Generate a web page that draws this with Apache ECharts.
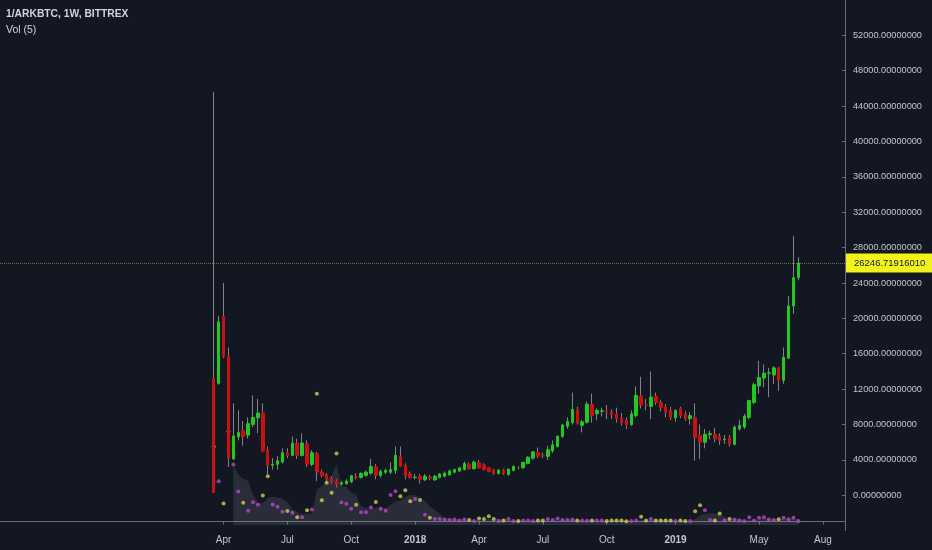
<!DOCTYPE html>
<html>
<head>
<meta charset="utf-8">
<script src="https://cdn.jsdelivr.net/npm/echarts@6/dist/echarts.min.js"></script>
<style>
html,body{margin:0;padding:0;background:#131722;}
#chart{width:932px;height:550px;}
</style>
</head>
<body>
<div id="chart"></div>
<script>
// ---------------- data (weekly 1/ARKBTC, Bittrex) ----------------
const firstCandle = '2017-03-20';
const emptyWeeksBefore = 43;
const emptyWeeksAfter = 9;

const open = [13200,12650,20200,15700,4100,6600,7300,6800,8000,8750,
  9300,5100,3400,3500,3750,4800,4500,5900,4500,5800,
  3500,4700,2600,2300,1900,1600,1250,1300,1500,2100,
  2000,2250,2500,3200,2250,2600,2600,2800,4400,3400,
  2450,2000,2150,1750,2050,1750,2000,2150,2300,2600,
  2750,2900,3500,3000,3700,3450,3100,2900,2450,2850,
  2350,2800,3150,3100,3600,4200,4800,4500,4400,5000,
  5500,6650,7800,8200,9700,7900,8250,10300,9200,9500,
  9450,9400,9200,8750,8450,7950,9000,11200,10200,10050,
  11200,10500,10000,9600,8750,9800,9200,8650,8800,6750,
  6000,6850,6900,6650,6300,6500,5750,7500,7700,8800,
  10500,12350,13250,13800,13600,14400,13000,15500,21400,24600];

const close = [300,19600,15700,4200,6700,7100,6600,8100,8800,9300,
  5000,3400,3500,3900,4800,4500,5900,4500,5900,3500,
  4800,2600,2250,1800,1500,1200,1400,1600,2200,2000,
  2450,2600,3250,2250,2700,2800,2900,4500,3300,2150,
  2000,2050,1750,2150,1900,2150,2400,2500,2750,2900,
  3100,3600,3000,3750,3100,2900,2700,2450,2850,2450,
  2950,3250,3100,3700,4300,4900,4400,4450,5150,5700,
  6650,7950,8350,9700,8150,8300,10300,9000,9600,9550,
  9350,9100,8650,8200,7950,9200,11300,10200,10150,11100,
  10500,9900,9400,8750,9600,9000,8600,9000,6500,6000,
  6900,6950,6400,6200,6350,5750,7700,7900,8950,10700,
  12500,13300,13800,13850,14400,13000,15600,21400,24600,26246.7191601];

const high = [45600,20300,24000,16700,10400,9600,8400,8800,11300,10900,
  10400,5500,4200,4400,5300,5300,6650,6400,7000,6200,
  5100,4900,2900,2500,2100,1800,1600,1800,2300,2500,
  2600,2800,4100,3500,2900,3000,3700,5500,5500,3600,
  2700,2400,2400,2400,2300,2300,2500,2700,2900,3000,
  3200,3800,3700,3900,4000,3600,3200,3000,2950,3000,
  3000,3400,3300,3800,4400,5000,5400,4800,5600,6200,
  6800,8100,8800,11600,10000,8500,10600,11500,9800,9900,
  10200,9700,9900,9300,8800,9600,12300,13400,10900,14000,
  11600,10800,10300,10000,9700,10000,9500,9400,10400,8000,
  7500,7300,7600,7000,6800,6800,7900,8500,9200,10800,
  12750,15200,14800,14400,14600,14500,16700,22500,29300,26900];

const low = [250,12500,15500,3200,4000,6200,5600,6400,7700,7000,
  4900,2400,2900,2900,3600,4200,4400,4100,4400,3200,
  3300,1600,2000,1600,1300,900,1100,1200,1400,1800,
  1900,2100,2300,1800,2000,2400,2400,2400,3200,1800,
  1900,1800,1300,1600,1700,1600,1900,2000,2200,2500,
  2600,2800,2900,2900,3000,2800,2600,2300,2350,2300,
  2200,2700,2900,3000,3500,4000,4200,4200,4000,4800,
  5400,6500,7500,8000,8000,7100,8100,8200,8500,8900,
  8600,8600,8200,7900,7500,7900,8800,9800,9600,8600,
  10200,9500,8800,8500,8300,8700,8400,8000,3900,4100,
  5300,6300,6000,5700,5800,5500,5700,7300,7500,8600,
  10300,11500,12200,11100,12600,11800,12600,15400,20500,24300];

const volume = [75,40.3,18,90,57,30,18.7,10.7,19.3,16.7,
  26,45.3,17,14.7,9.7,10.5,8.7,4.3,4.3,11.3,
  12,127.7,21.3,38.7,28.7,68,19,17.7,12.7,16.7,
  9.3,9.3,14,19.5,12.7,10.7,26.5,30.3,25.3,31.3,
  20.3,22.5,21.5,6.7,3.8,2.5,2.5,2,1.5,2,
  1,2,1.5,0.5,3,2.5,5.3,2.5,0.5,1,
  2.5,0.5,0.5,1,1,0.5,1,1,2.5,1.5,
  3,1.5,1.5,2,1,1,0.8,1,1,1,
  0.5,1,1,1,0.3,0.5,1,4.7,1,2.5,
  1,1,1,1,0.5,1,0.5,0.5,10.3,16.3,
  11.3,1.5,1,8,1,2.5,2,1,0.5,4.3,
  1,3.7,4.3,2,1.5,2.3,3.7,2.3,3.7,0.5];
const volMaLength = 5;

const tickDates = ['2017-04-03','2017-07-03','2017-10-02','2018-01-01','2018-04-02',
  '2018-07-02','2018-10-01','2019-01-07','2019-05-06','2019-08-05'];
const tickLabels = ['Apr','Jul','Oct','2018','Apr','Jul','Oct','2019','May','Aug'];

const lastPrice = 26246.71916010;
const titleText = '1/ARKBTC, 1W, BITTREX';
const volTitle = 'Vol (5)';

// ---------------- build ----------------
function addDays(iso, d) {
  return new Date(Date.parse(iso + 'T00:00:00Z') + d * 86400000).toISOString().slice(0, 10);
}
const categories = [];
for (let i = -emptyWeeksBefore; i < open.length + emptyWeeksAfter; i++) {
  categories.push(addDays(firstCandle, i * 7));
}
const idx = i => i + emptyWeeksBefore;

const wickData = open.map((o, i) => [idx(i), o, close[i], low[i], high[i]]);
const bodyData = open.map((o, i) => [idx(i), o, close[i], Math.min(o, close[i]), Math.max(o, close[i])]);

const YELLOW = '#d0d04e', MAGENTA = '#b946c6';
const volDots = volume.map((v, i) => ({
  value: [idx(i), v],
  itemStyle: { color: close[i] >= open[i] ? MAGENTA : YELLOW }
}));
const volMa = [];
for (let i = volMaLength - 1; i < volume.length; i++) {
  let s = 0;
  for (let k = i - volMaLength + 1; k <= i; k++) s += volume[k];
  volMa.push([idx(i), s / volMaLength]);
}

const FONT = 'Liberation Sans';
const TXT = '#c3c6ce';
const AXIS = '#6a6d78';

const chart = echarts.init(document.getElementById('chart'), null, { renderer: 'canvas' });
chart.setOption({
  backgroundColor: '#131722',
  animation: false,
  title: [
    { text: titleText, left: 6, top: 9, padding: 0,
      textStyle: { color: '#d1d4dc', fontSize: 10.3, fontWeight: 'bold', fontFamily: FONT } },
    { text: volTitle, left: 6, top: 25, padding: 0,
      textStyle: { color: '#d1d4dc', fontSize: 10.5, fontWeight: 'normal', fontFamily: FONT } }
  ],
  grid: [
    { left: 0, right: 87, top: -3.1, bottom: 19.4 },
    { left: 0, right: 87, top: 0, bottom: 25 }
  ],
  xAxis: [
    { type: 'category', gridIndex: 0, data: categories, show: false, boundaryGap: true },
    { type: 'category', gridIndex: 1, data: categories, boundaryGap: true,
      axisLine: { show: true, lineStyle: { color: AXIS, width: 1 } },
      axisTick: { show: true, alignWithLabel: true, length: 3, lineStyle: { color: AXIS },
        interval: (i, v) => tickDates.includes(v) },
      axisLabel: {
        interval: (i, v) => tickDates.includes(v),
        color: TXT, fontSize: 10, fontFamily: FONT, margin: 10,
        formatter: v => {
          const t = tickLabels[tickDates.indexOf(v)];
          return /^\d{4}$/.test(t) ? '{y|' + t + '}' : t;
        },
        rich: { y: { color: TXT, fontSize: 10, fontFamily: FONT, fontWeight: 'bold' } }
      },
      splitLine: { show: false } }
  ],
  yAxis: [
    { type: 'value', gridIndex: 0, position: 'right', min: -4000, max: 56000, interval: 4000,
      axisLine: { show: true, lineStyle: { color: AXIS } },
      axisTick: { show: true, inside: true, length: 3, lineStyle: { color: AXIS } },
      axisLabel: { color: TXT, fontSize: 9.2, fontFamily: FONT, margin: 8,
        showMinLabel: false, showMaxLabel: false,
        formatter: v => v.toFixed(8) },
      splitLine: { show: false } },
    { type: 'value', gridIndex: 1, min: -3.5, max: 521.5, show: false, splitLine: { show: false } }
  ],
  series: [
    { name: 'Vol MA', type: 'line', xAxisIndex: 1, yAxisIndex: 1, data: volMa,
      showSymbol: false, symbol: 'none', z: 1,
      lineStyle: { width: 0, opacity: 0 },
      areaStyle: { color: 'rgba(150,155,170,0.24)', origin: 'start' } },
    { name: 'Vol', type: 'scatter', xAxisIndex: 1, yAxisIndex: 1, data: volDots,
      symbolSize: 4, z: 2 },
    { name: 'wick', type: 'candlestick', xAxisIndex: 0, yAxisIndex: 0, data: wickData,
      encode: { x: 0, y: [1, 2, 3, 4] }, barWidth: 1, z: 3,
      itemStyle: { color: '#80838d', color0: '#80838d', borderColor: '#80838d', borderColor0: '#80838d', borderWidth: 1 } },
    { name: '1/ARKBTC', type: 'candlestick', xAxisIndex: 0, yAxisIndex: 0, data: bodyData,
      encode: { x: 0, y: [1, 2, 3, 4] }, barWidth: 3, z: 4,
      itemStyle: { color: '#20c820', color0: '#cc1010', borderColor: '#20c820', borderColor0: '#cc1010', borderWidth: 1 },
      markLine: {
        silent: true, symbol: ['none', 'none'], animation: false,
        lineStyle: { color: 'rgba(215,215,90,0.45)', type: 'dotted', width: 1 },
        label: { show: true, position: 'end', distance: 1, formatter: () => lastPrice.toFixed(8),
          backgroundColor: '#f2f21c', color: '#131722', fontSize: 9.5, fontFamily: FONT,
          padding: [5, 8, 4, 8] },
        data: [{ yAxis: lastPrice }]
      } }
  ]
});
</script>
</body>
</html>
